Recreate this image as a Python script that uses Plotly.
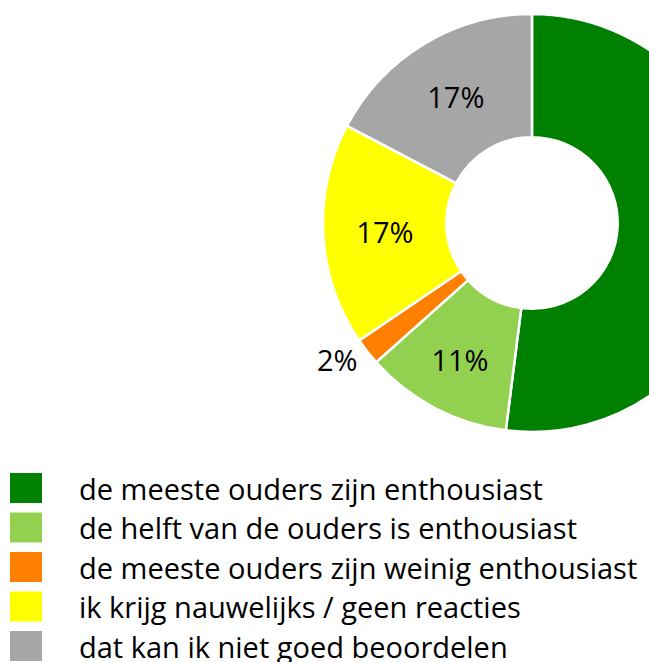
import plotly.graph_objects as go

labels = [
    "de meeste ouders zijn enthousiast",
    "de helft van de ouders is enthousiast",
    "de meeste ouders zijn weinig enthousiast",
    "ik krijg nauwelijks / geen reacties",
    "dat kan ik niet goed beoordelen",
]
values = [52.0, 11.4, 2.1, 17.2, 17.3]
colors = ["#008000", "#92d050", "#ff8000", "#ffff00", "#a6a6a6"]
text_positions = ["inside", "inside", "outside", "inside", "inside"]

W, H = 760, 662
FONT = "Open Sans"

def px_x(x):
    return x / W

def px_y(y):
    return 1 - y / H

fig = go.Figure()
fig.add_trace(go.Pie(
    labels=labels,
    values=values,
    marker=dict(colors=colors, line=dict(color="white", width=2.5)),
    hole=0.41,
    sort=False,
    direction="clockwise",
    rotation=0,
    texttemplate="%{percent:.0%}",
    textposition=text_positions,
    insidetextorientation="horizontal",
    textfont=dict(family=FONT, size=29, color="black"),
    domain=dict(x=[px_x(323), px_x(741)], y=[px_y(432), px_y(14)]),
    showlegend=False,
    hoverinfo="label+percent",
))

shapes = []
annotations = []
row_top = 473
row_step = 39.5
for i, (lab, col) in enumerate(zip(labels, colors)):
    top = row_top + i * row_step
    shapes.append(dict(
        type="rect", xref="paper", yref="paper",
        x0=px_x(10), x1=px_x(42), y0=px_y(top + 30), y1=px_y(top),
        fillcolor=col, line=dict(width=0),
    ))
    annotations.append(dict(
        xref="paper", yref="paper", x=px_x(77), y=px_y(top + 15),
        xanchor="left", yanchor="middle", text=lab, showarrow=False,
        font=dict(family=FONT, size=29, color="black"),
    ))

fig.update_layout(
    width=W, height=H,
    margin=dict(l=0, r=0, t=0, b=0),
    paper_bgcolor="white",
    plot_bgcolor="white",
    shapes=shapes,
    annotations=annotations,
    font=dict(family=FONT),
)

fig.write_html(
    "out.html",
    post_script="document.documentElement.style.overflow='hidden';document.body.style.overflow='hidden';document.body.style.margin='0';",
)
